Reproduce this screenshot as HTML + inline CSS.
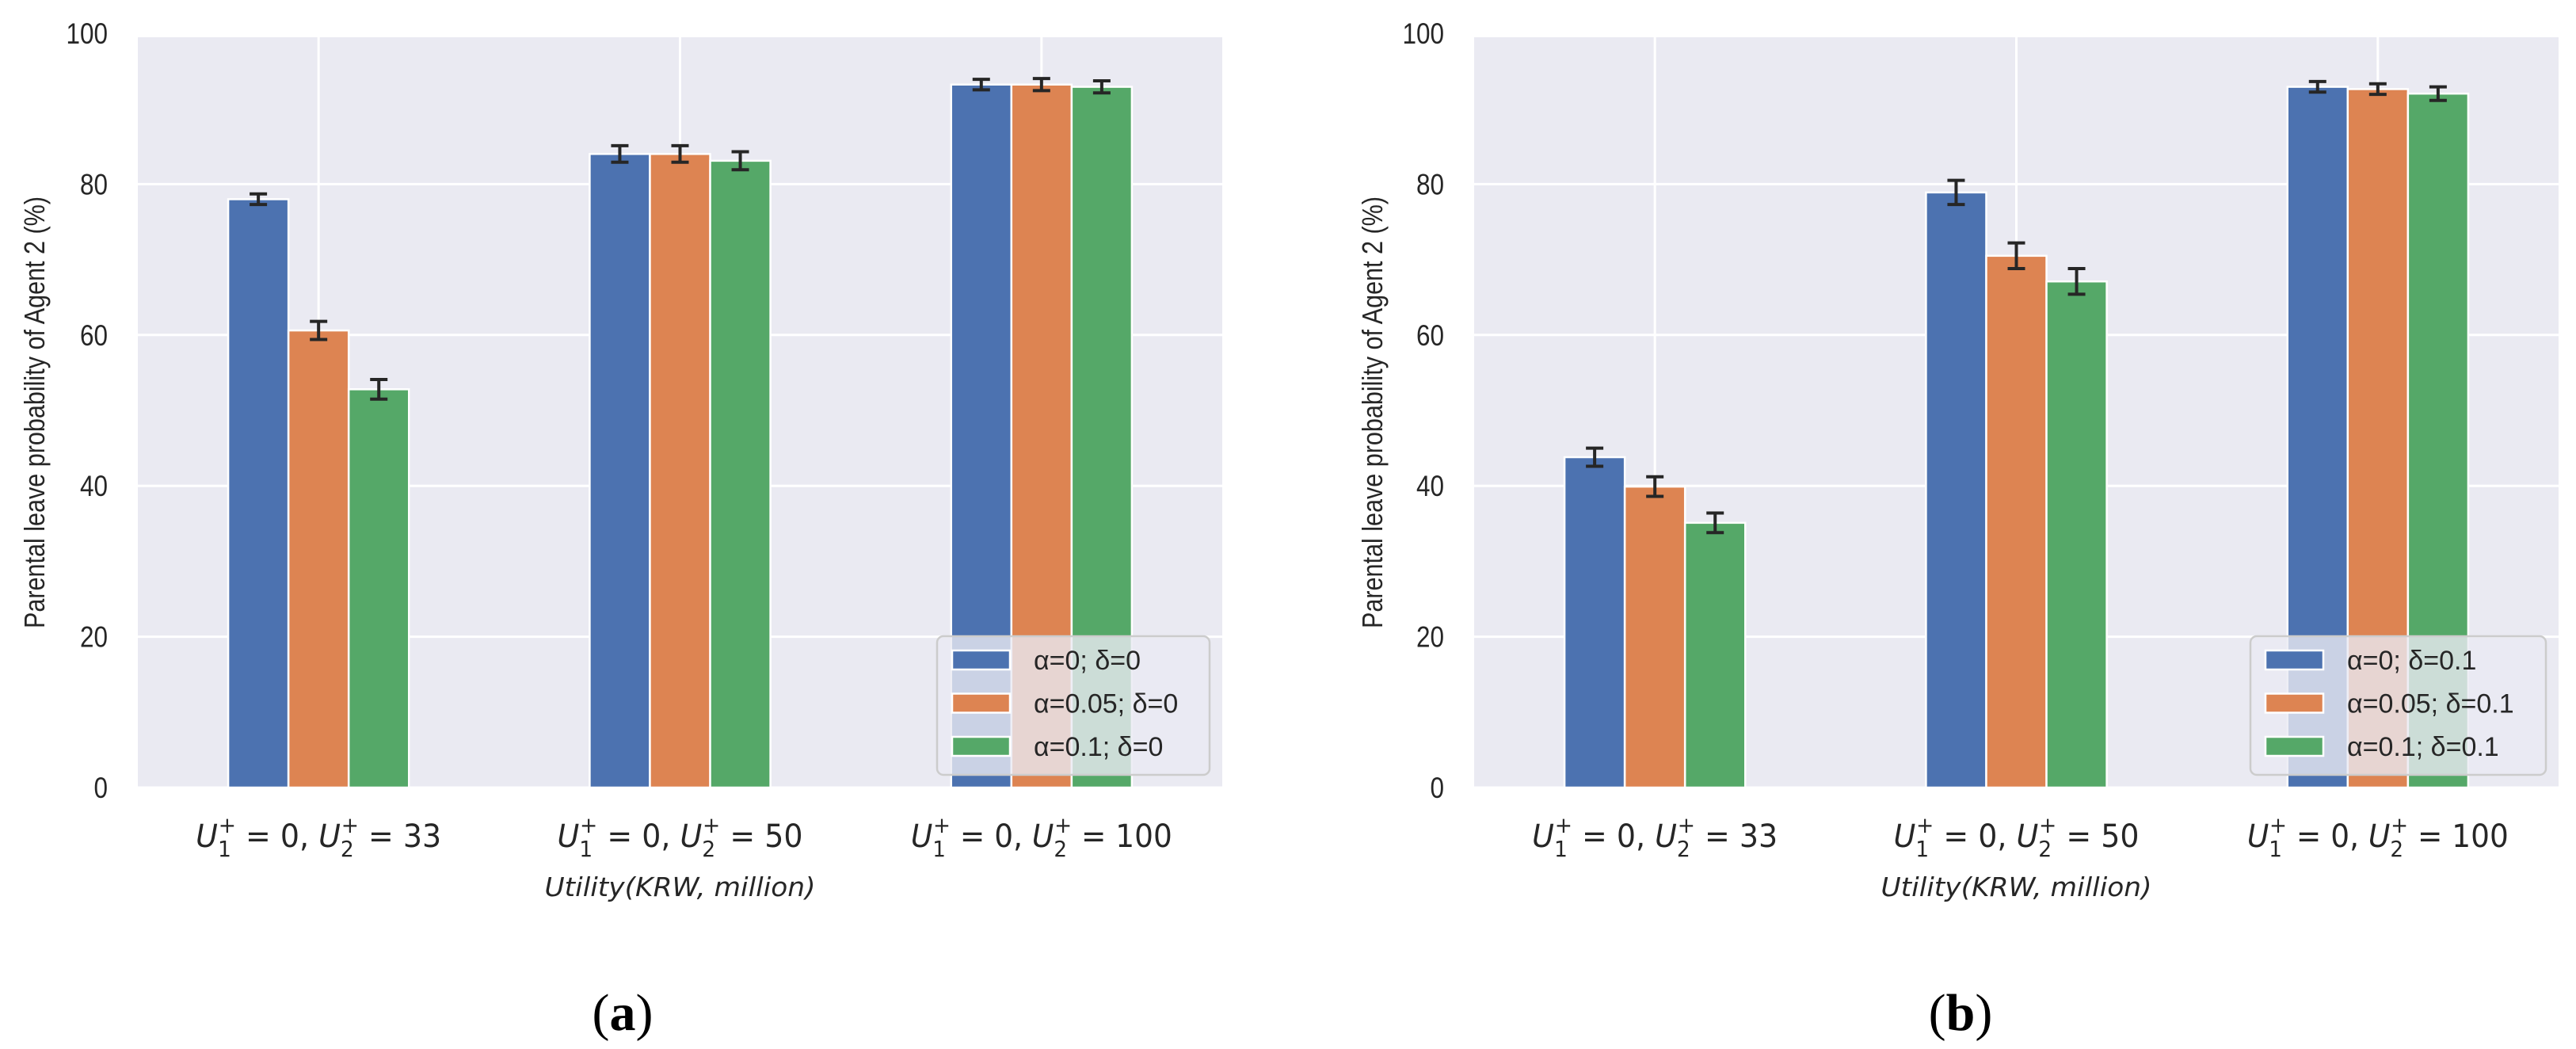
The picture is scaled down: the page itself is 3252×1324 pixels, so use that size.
<!DOCTYPE html>
<html><head><meta charset="utf-8"><style>
html,body{margin:0;padding:0;background:#fff;}
svg{display:block;}
</style></head><body>
<svg id="fig" xmlns="http://www.w3.org/2000/svg" width="3252" height="1324" viewBox="0 0 3252 1324"></svg>
<script>
const categories = ["33", "50", "100"];
const yTicks = [0, 20, 40, 60, 80, 100];
const seriesColors = ["#4c72b0", "#dd8452", "#55a868"];
const labelsA = ["α=0; δ=0", "α=0.05; δ=0", "α=0.1; δ=0"];
const labelsB = ["α=0; δ=0.1", "α=0.05; δ=0.1", "α=0.1; δ=0.1"];
const valuesA0 = [78.0, 84.0, 93.2];
const valuesA1 = [60.6, 84.0, 93.2];
const valuesA2 = [52.8, 83.1, 92.9];
const errA0 = [0.7, 1.1, 0.7];
const errA1 = [1.2, 1.1, 0.8];
const errA2 = [1.3, 1.2, 0.8];
const valuesB0 = [43.8, 78.9, 92.9];
const valuesB1 = [39.9, 70.5, 92.6];
const valuesB2 = [35.1, 67.1, 92.0];
const errB0 = [1.2, 1.6, 0.7];
const errB1 = [1.3, 1.7, 0.7];
const errB2 = [1.3, 1.7, 0.9];

const NS = "http://www.w3.org/2000/svg";
const svg = document.getElementById('fig');
function mk(tag, attrs, parent){
  const e = document.createElementNS(NS, tag);
  for (const k in attrs) e.setAttribute(k, attrs[k]);
  (parent||svg).appendChild(e);
  return e;
}

function panel(px0, px1, series, errs, labels, titleX, caption, capX, id){
  const top = 47, y0 = 994, k = 9.52;
  const yS = v => y0 - v * k;
  const gw = (px1 - px0) / 3;
  const xS = i => px0 + gw * (i + 0.5);
  const bw = gw / 6;
  const g = mk('g', {});
  
  
  const bg = mk('rect', {x:px0, y:top, width:px1-px0, height:y0-top, fill:'#eaeaf2'}, g);
  
  
  yTicks.forEach(t => {
    const y = yS(t);
    if (y >= top) {
      const l = mk('line', {x1:px0, x2:px1, y1:y, y2:y, stroke:'#fff', 'stroke-width':3}, g);
      
      
    }
    const tx = mk('text', {x:px0-38, y:y+13, 'text-anchor':'end', 'font-family':'Liberation Sans, sans-serif', 'font-size':37, fill:'#262626', textLength: String(t).length*17.5, lengthAdjust:'spacingAndGlyphs'}, g);
    tx.textContent = t;
    
    
  });
  categories.forEach((c, i) => {
    const l = mk('line', {x1:xS(i), x2:xS(i), y1:top, y2:y0, stroke:'#fff', 'stroke-width':3}, g);
    
    
  });
  series.forEach((vals, s) => {
    vals.forEach((v, i) => {
      const cx = xS(i) + (s - 1) * bw;
      const r = mk('rect', {x:cx-bw/2, y:yS(v), width:bw, height:y0-yS(v), fill:seriesColors[s], stroke:'#fff', 'stroke-width':2.5}, g);
      
      
      const e = errs[s][i];
      const eg = mk('g', {stroke:'#262626', 'stroke-width':4}, g);
      
      
      mk('line', {x1:cx, x2:cx, y1:yS(v+e), y2:yS(v-e)}, eg);
      mk('line', {x1:cx-11, x2:cx+11, y1:yS(v+e), y2:yS(v+e)}, eg);
      mk('line', {x1:cx-11, x2:cx+11, y1:yS(v-e), y2:yS(v-e)}, eg);
    });
  });
  categories.forEach((c, i) => {
    const t = mk('text', {x:xS(i), y:1069, 'text-anchor':'middle', 'font-family':'DejaVu Sans, sans-serif', 'font-size':40, fill:'#262626', textLength: c.length===3?330:310, lengthAdjust:'spacingAndGlyphs'}, g);
    
    
    t.innerHTML = '<tspan font-style="italic">U</tspan><tspan dy="12" font-size="28">1</tspan><tspan dx="-17" dy="-30" font-size="28">+</tspan><tspan dy="18"> = 0, </tspan><tspan font-style="italic">U</tspan><tspan dy="12" font-size="28">2</tspan><tspan dx="-17" dy="-30" font-size="28">+</tspan><tspan dy="18"> = ' + c + '</tspan>';
  });
  const xl = mk('text', {x:(px0+px1)/2, y:1131, 'text-anchor':'middle', 'font-family':'DejaVu Sans, sans-serif', 'font-style':'italic', 'font-size':33, fill:'#262626', textLength:342, lengthAdjust:'spacingAndGlyphs'}, g);
  xl.textContent = 'Utility(KRW, million)';
  
  
  const yl = mk('text', {x:0, y:0, transform:'translate(' + (titleX+12) + ',' + ((top+y0)/2) + ') rotate(-90)', 'text-anchor':'middle', 'font-family':'Liberation Sans, sans-serif', 'font-size':36, fill:'#262626', textLength:545, lengthAdjust:'spacingAndGlyphs'}, g);
  yl.textContent = 'Parental leave probability of Agent 2 (%)';
  
  
  const lx1 = px1 - 16, lx0 = lx1 - (id==='a'?344:373), ly0 = 803, ly1 = 978;
  const lg = mk('g', {}, g);
  
  
  mk('rect', {x:lx0, y:ly0, width:lx1-lx0, height:ly1-ly0, rx:8, fill:'#eaeaf2', 'fill-opacity':0.8, stroke:'#cccccc', 'stroke-width':2.5}, lg);
  labels.forEach((lab, s) => {
    const cy = 833 + s * 54.5;
    const e = mk('g', {}, lg);
    
    
    mk('rect', {x:lx0+19, y:cy-12, width:73, height:24, fill:seriesColors[s], stroke:'#fff', 'stroke-width':2.5}, e);
    const t = mk('text', {x:lx0+122, y:cy+12, 'font-family':'Liberation Sans, sans-serif', 'font-size':34, fill:'#262626'}, e);
    t.textContent = lab;
  });
  const cap = mk('text', {x:capX, y:1300, 'text-anchor':'middle', 'font-family':'Liberation Serif, serif', 'font-size':66, fill:'#000'}, g);
  cap.innerHTML = '(<tspan font-weight="bold">' + id + '</tspan>)';
  
  
}

panel(174, 1543, [valuesA0, valuesA1, valuesA2], [errA0, errA1, errA2], labelsA, 44, '(a)', 786, 'a');
panel(1861, 3230, [valuesB0, valuesB1, valuesB2], [errB0, errB1, errB2], labelsB, 1733, '(b)', 2475, 'b');
</script>
</body></html>
